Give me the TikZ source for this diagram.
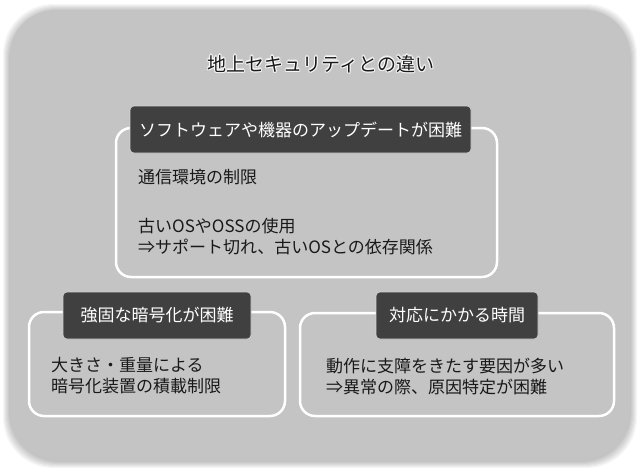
\documentclass[tikz,border=0pt]{standalone}
\usepackage{fontspec}
\setmainfont{Noto Sans CJK JP}
\definecolor{headgray}{HTML}{404040}
\definecolor{backgray}{HTML}{C4C4C4}
\begin{document}
\begin{tikzpicture}[x=1pt, y=-1pt,
        every node/.style = {font=\fontsize{17}{21}\selectfont, text=black!90},
        panel/.style  = {draw=white, line width=2.5pt, rounded corners=15pt, inner sep=0pt},
        header/.style = {draw=gray!35, line width=0.6pt, fill=headgray, text=white, rounded corners=4pt, inner sep=0pt, minimum height=47pt},
        body/.style   = {anchor=west, align=left, inner sep=0pt},
        heading/.style = {font=\fontsize{19}{23}\selectfont}]
        % Background
        \fill[white] (0,0) rectangle (640,471);
        \useasboundingbox (0,0) rectangle (640,471);
        \foreach \i in {1,...,7}
            \fill[black, opacity=0.035, rounded corners=50pt] (10-\i,11-\i) rectangle (630+\i,461+\i);
        \fill[backgray, rounded corners=45pt] (10,10) rectangle (630,458);

        % Title (with white glow)
        \foreach \a in {0,45,...,315}
            \node[heading, text=white, opacity=0.6, shift={(\a:1.3pt)}] at (321,64) {地上セキュリティとの違い};
        \node[heading] (title) at (321,64) {地上セキュリティとの違い};

        % Panels
        \node[panel, minimum width=381pt, minimum height=149pt] (upd)  at (306.5,202.5) {};
        \node[panel, minimum width=256pt, minimum height=104pt] (enc)  at (157,364)     {};
        \node[panel, minimum width=314pt, minimum height=103pt] (time) at (457,364.5)   {};

        % Headers
        \node[header, minimum width=341pt] (updhead)  at (300.5,129.5) {ソフトウェアや機器のアップデートが困難};
        \node[header, minimum width=188pt] (enchead)  at (157,315.5)   {強固な暗号化が困難};
        \node[header, minimum width=162pt] (timehead) at (457,315.5)   {対応にかかる時間};

        % Body text
        \node[body] (comm)  at (138,177)   {通信環境の制限};
        \node[body] (oldos) at (138,236.5) {古いOSやOSSの使用\\⇒サポート切れ、古いOSとの依存関係};
        \node[body] (size)  at (51,376)    {大きさ・重量による\\暗号化装置の積載制限};
        \node[body] (cause) at (326,377)   {動作に支障をきたす要因が多い\\⇒異常の際、原因特定が困難};
      \end{tikzpicture}
\end{document}
